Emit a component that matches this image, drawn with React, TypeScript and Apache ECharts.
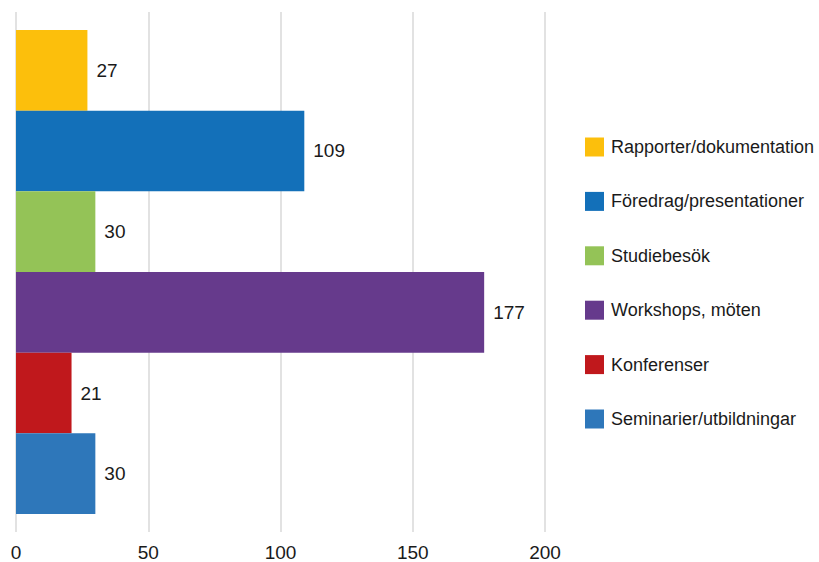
import React, { useEffect, useRef } from "react";
import * as echarts from "echarts";

const categories = ["Aktiviteter"];
const seriesNames = [
  "Rapporter/dokumentation",
  "Föredrag/presentationer",
  "Studiebesök",
  "Workshops, möten",
  "Konferenser",
  "Seminarier/utbildningar",
];
const seriesValues = [27, 109, 30, 177, 21, 30];
const seriesColors = ["#FCBF0C", "#1370B9", "#94C357", "#663A8C", "#C0181C", "#2E77BA"];
const xTicks = [0, 50, 100, 150, 200];

const FONT = "Liberation Sans";

export default function App() {
  const ref = useRef<HTMLDivElement>(null);
  useEffect(() => {
    if (!ref.current) return;
    const chart = echarts.init(ref.current, undefined, { renderer: "svg" });
    chart.setOption({
      animation: false,
      textStyle: { fontFamily: FONT },
      grid: { left: 16, right: 274, top: 12, bottom: 30, containLabel: false },
      legend: {
        orient: "vertical",
        left: 585,
        top: 137.5,
        padding: 0,
        itemWidth: 19,
        itemHeight: 19,
        itemGap: 35.4,
        icon: "rect",
        data: seriesNames,
        textStyle: { fontFamily: FONT, fontSize: 18, color: "#1a1a1a", padding: [0, 0, 0, 2] },
      },
      xAxis: {
        type: "value",
        min: xTicks[0],
        max: xTicks[xTicks.length - 1],
        interval: 50,
        axisLine: { show: false },
        axisTick: { show: false },
        axisLabel: { fontFamily: FONT, fontSize: 19, color: "#1a1a1a", margin: 11 },
        splitLine: { show: true, lineStyle: { color: "#d9d9d9", width: 1.5 } },
      },
      yAxis: {
        type: "category",
        data: categories,
        inverse: true,
        axisLine: { show: false },
        axisTick: { show: false },
        axisLabel: { show: false },
      },
      series: seriesNames.map((name, i) => ({
        name,
        type: "bar",
        data: [seriesValues[i]],
        itemStyle: { color: seriesColors[i] },
        barGap: "0%",
        barCategoryGap: "6.9%",
        label: {
          show: true,
          position: "right",
          distance: 9,
          fontFamily: FONT,
          fontSize: 19,
          color: "#1a1a1a",
        },
      })),
    });
    return () => chart.dispose();
  }, []);
  return (
    <div
      ref={ref}
      style={{ position: "fixed", left: 0, top: 0, width: 819, height: 562, background: "#fff" }}
    />
  );
}
